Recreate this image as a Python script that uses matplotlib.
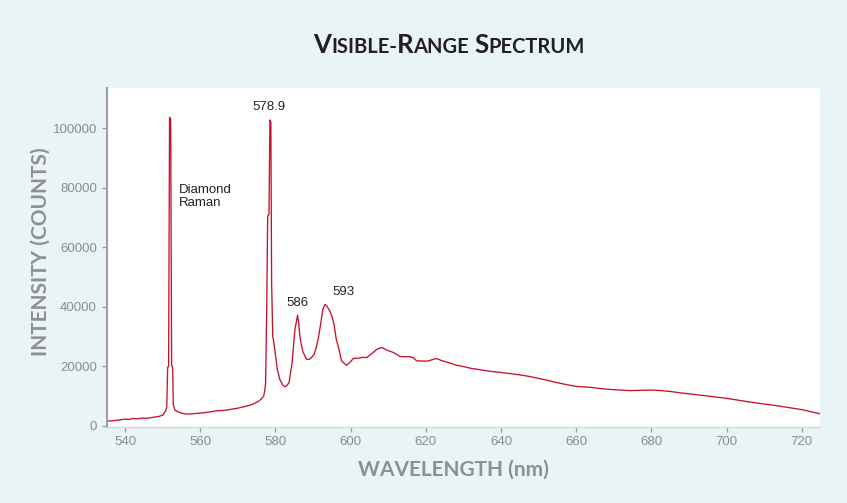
import matplotlib
matplotlib.use("Agg")
import matplotlib.pyplot as plt
from matplotlib.offsetbox import TextArea, HPacker, AnchoredOffsetbox

# Spectrum (wavelength in nm, intensity in counts)
wavelength = [
    535.2, 537.0, 538.5, 540.0, 541.0, 542.1, 543.0, 544.7, 546.0, 547.4,
    549.0, 550.1, 550.8, 551.1, 551.35, 551.6, 551.85, 552.15, 552.4, 552.65,
    552.85, 553.3, 554.1, 555.0, 556.3, 558.0, 559.9, 562.0, 564.3, 566.0,
    568.7, 570.0, 571.4, 573.0, 574.1, 575.5, 576.3, 576.9, 577.2, 577.4,
    577.7, 577.95, 578.3, 578.55, 578.8, 579.0, 579.3, 579.6, 580.0, 580.5,
    581.2, 582.0, 582.5, 583.0, 583.65, 584.45, 584.9, 585.2, 585.6, 585.9,
    586.2, 586.5, 587.0, 587.4, 588.3, 589.0, 589.6, 590.3, 590.9, 591.5,
    592.1, 592.6, 593.2, 593.8, 594.5, 595.1, 595.6, 596.2, 596.7, 597.6,
    598.9, 600.0, 600.7, 602.0, 603.4, 604.3, 606.0, 607.0, 608.3, 609.5,
    611.4, 613.1, 614.0, 615.8, 616.7, 617.6, 620.3, 621.5, 622.7, 624.5,
    626.5, 628.0, 630.0, 632.0, 634.5, 637.0, 640.0, 643.0, 645.0, 647.8,
    650.0, 652.2, 654.5, 656.7, 660.0, 663.8, 667.0, 670.0, 674.4, 677.0,
    680.0, 682.5, 685.1, 688.0, 692.2, 696.0, 700.0, 704.0, 708.2, 713.5,
    717.0, 720.0, 722.5, 724.9,
]
counts = [
    1500, 1700, 1900, 2200, 2100, 2450, 2300, 2550, 2500, 2800,
    3100, 3600, 5000, 6200, 19500, 20100, 103700, 103000, 20300, 19800,
    7000, 5200, 4700, 4200, 3900, 4000, 4250, 4500, 5000, 5100,
    5600, 5900, 6300, 6800, 7300, 8200, 9000, 10000, 12000, 14500,
    40000, 70500, 71000, 102800, 102000, 48000, 30000, 28000, 24000, 19000,
    15500, 13500, 13100, 13400, 14500, 21250, 28000, 32400, 35000, 37200,
    34500, 30200, 26500, 24600, 22350, 22300, 22900, 24000, 26300, 30000,
    34650, 39000, 40800, 40000, 38500, 36500, 34000, 29000, 26800, 21800,
    20300, 21500, 22600, 22700, 23000, 22900, 24600, 25700, 26300, 25500,
    24600, 23300, 23200, 23200, 22800, 21800, 21700, 22100, 22600, 21800,
    21000, 20400, 19900, 19300, 18800, 18300, 17900, 17400, 17100, 16500,
    15900, 15300, 14600, 14000, 13200, 12900, 12400, 12100, 11800, 11900,
    12000, 11800, 11500, 11000, 10400, 9800, 9200, 8400, 7600, 6700,
    6000, 5400, 4700, 4000,
]

xticks = [540, 560, 580, 600, 620, 640, 660, 680, 700, 720]
yticks = [0, 20000, 40000, 60000, 80000, 100000]

# peak labels: text, x, y
peak_labels = ["578.9", "586", "593"]
peak_x = [578.2, 585.8, 598.0]
peak_y = [107200, 41300, 45000]

bg = "#e9f4f6"
red = "#c8102e"
gray = "#8c8c8c"

fig = plt.figure(figsize=(8.47, 5.03), dpi=100, facecolor=bg)
ax = fig.add_axes([106.7 / 847, 1 - 426.7 / 503, (820 - 106.7) / 847, (426.7 - 88) / 503])
ax.set_facecolor("white")

ax.plot(wavelength, counts, color=red, lw=0.95)

ax.set_xlim(535.13, 724.87)
ax.set_ylim(-340, 113550)
ax.set_xticks(xticks)
ax.set_yticks(yticks)

for s in ["top", "right"]:
    ax.spines[s].set_visible(False)
ax.spines["left"].set_color("#a0a0a0")
ax.spines["left"].set_linewidth(1.5)
ax.spines["bottom"].set_color("#d3dadc")
ax.spines["bottom"].set_linewidth(1.0)
ax.tick_params(colors="#999999", labelcolor=gray, labelsize=9.5, length=3.5, width=0.9, pad=3.5)
for lab in ax.get_xticklabels() + ax.get_yticklabels():
    lab.set_fontfamily("Liberation Sans")

for t, x, y in zip(peak_labels, peak_x, peak_y):
    ax.text(x, y, t, ha="center", va="center", fontsize=9.5, color="#222222",
            family="Liberation Sans")
ax.text(554.3, 77000, "Diamond\nRaman", ha="left", va="center", fontsize=9.5,
        color="#222222", family="Liberation Sans", linespacing=1.05)

# axis titles
fig.text(41 / 847, 1 - 252 / 503, "INTENSITY (COUNTS)", rotation=90, ha="center", va="center",
         fontsize=15, fontweight="bold", color="#8f8f8f", family="Lato")
fig.text(453 / 847, 1 - 470 / 503, "WAVELENGTH (nm)", ha="center", va="center",
         fontsize=15, fontweight="bold", color="#8f8f8f", family="Lato")

# small caps title
big, small = 18.5, 14.5
parts = [("V", big), ("ISIBLE-", small), ("R", big), ("ANGE ", small), ("S", big), ("PECTRUM", small)]
areas = [TextArea(p, textprops=dict(fontsize=sz, fontweight="bold", color="#231f20", family="Lato"))
         for p, sz in parts]
title_box = HPacker(children=areas, align="baseline", pad=0, sep=0)
anchored = AnchoredOffsetbox(loc="center", child=title_box, frameon=False,
                             bbox_to_anchor=(449 / 847, 1 - 45 / 503),
                             bbox_transform=fig.transFigure, pad=0, borderpad=0)
fig.add_artist(anchored)

fig.savefig("out.png", dpi=100, facecolor=bg)
